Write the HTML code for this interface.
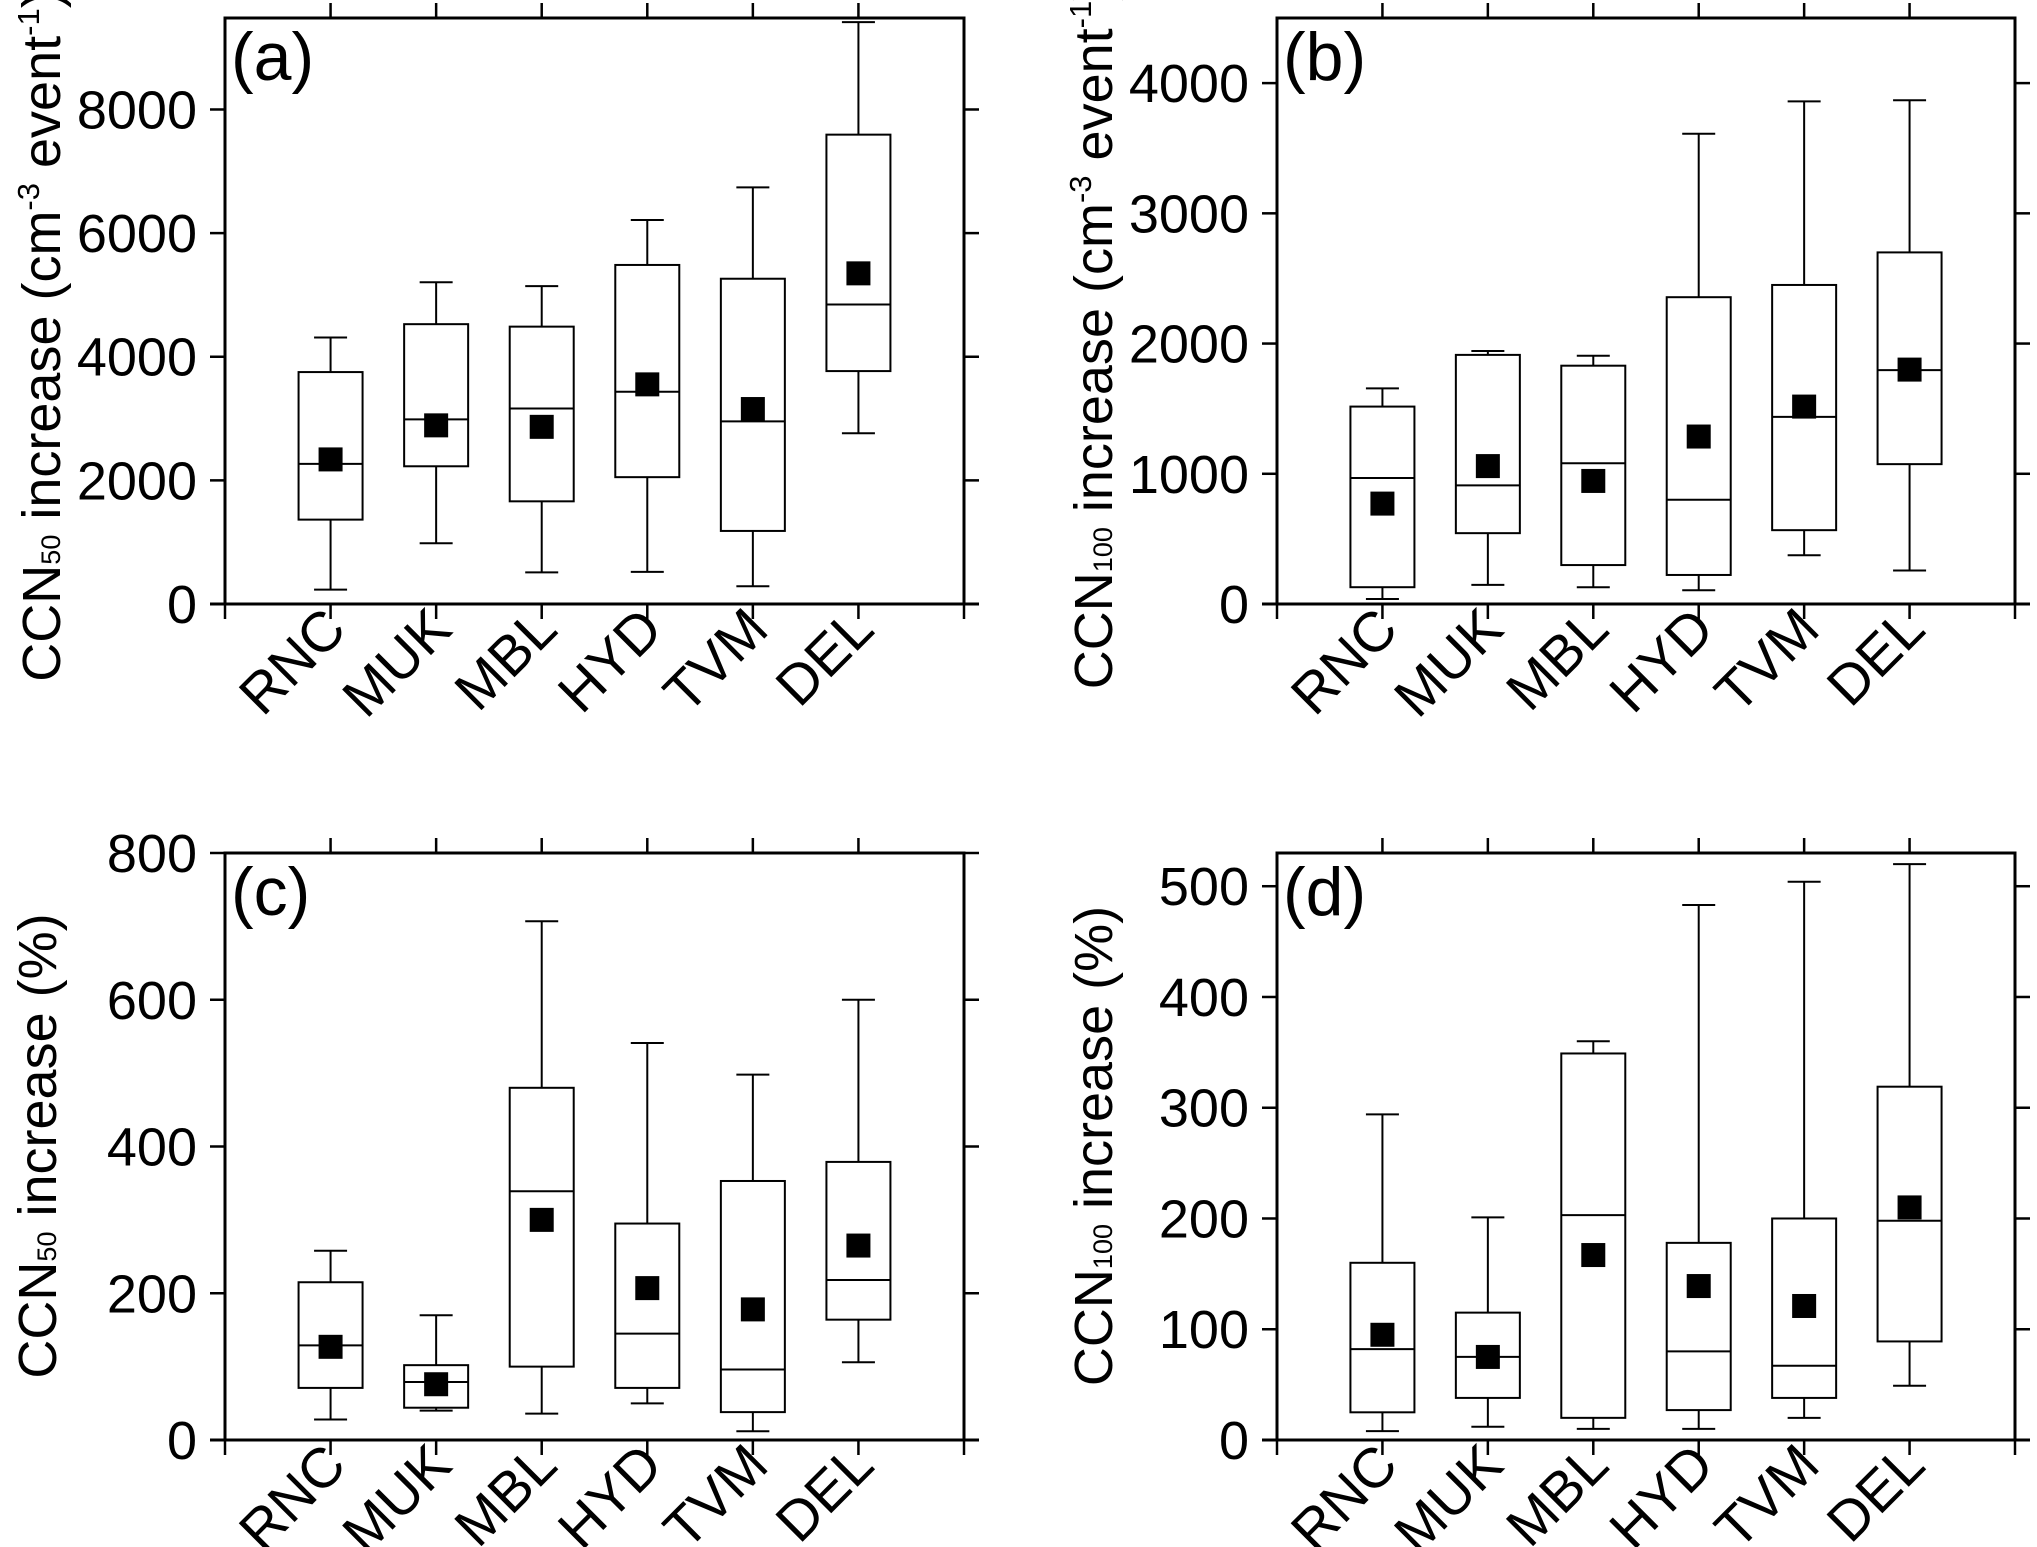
<!DOCTYPE html>
<html><head><meta charset="utf-8">
<style>
html,body{margin:0;padding:0;background:#fff;}
svg{display:block;}
text{font-family:"Liberation Sans",Arial,sans-serif;fill:#000;}
</style></head>
<body>
<svg id="fig" width="2037" height="1547" viewBox="0 0 2037 1547" xmlns="http://www.w3.org/2000/svg"></svg>
<script>
const categories = ["RNC","MUK","MBL","HYD","TVM","DEL"];

// Panel (a) CCN50 increase (cm-3 event-1)
const aWhiskerHigh = [4311,5205,5142,6212,6739,9413];
const aQ3          = [3752,4527,4487,5485,5262,7593];
const aMedian      = [2267,2986,3162,3433,2954,4846];
const aQ1          = [1365,2228,1661,2052,1182,3768];
const aWhiskerLow  = [232,982,511,519,287,2763];
const aMean        = [2339,2890,2866,3553,3154,5349];
const aTicks       = [0,2000,4000,6000,8000];

// Panel (b) CCN100 increase (cm-3 event-1)
const bWhiskerHigh = [1656,1943,1906,3611,3860,3868];
const bQ3          = [1516,1913,1830,2356,2450,2700];
const bMedian      = [968,911,1081,801,1437,1796];
const bQ1          = [129,544,299,223,567,1074];
const bWhiskerLow  = [38,147,129,106,374,257];
const bMean        = [771,1059,945,1286,1516,1800];
const bTicks       = [0,1000,2000,3000,4000];

// Panel (c) CCN50 increase (%)
const cWhiskerHigh = [258,170,707,541,498,600];
const cQ3          = [215,102,480,295,353,379];
const cMedian      = [129,79,339,145,96,218];
const cQ1          = [71,44,100,71,38,164];
const cWhiskerLow  = [28,40,36,50,12,106];
const cMean        = [127,76,300,207,178,265];
const cTicks       = [0,200,400,600,800];

// Panel (d) CCN100 increase (%)
const dWhiskerHigh = [294,201,360,483,504,520];
const dQ3          = [160,115,349,178,200,319];
const dMedian      = [82,75,203,80,67,198];
const dQ1          = [25,38,20,27,38,89];
const dWhiskerLow  = [8,12,10,10,20,49];
const dMean        = [95,75,167,139,121,210];
const dTicks       = [0,100,200,300,400,500];

const NS = "http://www.w3.org/2000/svg";
const svg = document.getElementById('fig');

function mk(tag, attrs, parent){
  const e = document.createElementNS(NS, tag);
  for (const k in attrs) e.setAttribute(k, attrs[k]);
  (parent||svg).appendChild(e);
  return e;
}

function panel(cfg){
  const g = mk('g', {});
  
  
  const L=cfg.left, R=cfg.right, T=cfg.top, B=cfg.bottom;
  const xs = i => L + (R-L)*(i+1)/7;
  const ys = v => B - (B-T)*v/cfg.ymax;
  const tk = 15;

  const fr = mk('path', {d:`M${L},${B} L${L},${T} L${R},${T} L${R},${B}`, fill:'none', stroke:'#000','stroke-width':3}, g);
  
  
  const xa = mk('line', {x1:L-tk, x2:R+tk, y1:B, y2:B, stroke:'#000','stroke-width':3}, g);
  
  
  for (let j=0;j<=7;j++){
    const x = L + (R-L)*j/7;
    const t1 = mk('line', {x1:x,x2:x,y1:B,y2:B+tk,stroke:'#000','stroke-width':2.5}, g);
    
    
    if (j>0 && j<7){
      const t2 = mk('line', {x1:x,x2:x,y1:T,y2:T-tk,stroke:'#000','stroke-width':2.5}, g);
      
      
    }
  }
  cfg.ticks.forEach(v=>{
    const y = ys(v);
    const t1 = mk('line', {x1:L-tk,x2:L,y1:y,y2:y,stroke:'#000','stroke-width':2.5}, g);
    
    
    const t2 = mk('line', {x1:R,x2:R+tk,y1:y,y2:y,stroke:'#000','stroke-width':2.5}, g);
    
    
    const lb = mk('text', {x:L-28, y:y+19, 'text-anchor':'end','font-size':54}, g);
    lb.textContent = String(v);
    
    
  });
  categories.forEach((c,i)=>{
    const x = xs(i)+18, y = B+28;
    const lb = mk('text', {x:x, y:y, 'text-anchor':'end','font-size':56, transform:`rotate(-45 ${x} ${y})`}, g);
    lb.textContent = c;
    
    
  });
  const bw=64, cw=33, ms=24;
  categories.forEach((c,i)=>{
    const x = xs(i);
    const bg = mk('g', {}, g);
    
    
    const st = {stroke:'#000','stroke-width':2,fill:'none'};
    mk('line', Object.assign({x1:x,x2:x,y1:ys(cfg.wh[i]),y2:ys(cfg.q3[i])},st), bg);
    mk('line', Object.assign({x1:x,x2:x,y1:ys(cfg.q1[i]),y2:ys(cfg.wl[i])},st), bg);
    mk('line', Object.assign({x1:x-cw/2,x2:x+cw/2,y1:ys(cfg.wh[i]),y2:ys(cfg.wh[i])},st), bg);
    mk('line', Object.assign({x1:x-cw/2,x2:x+cw/2,y1:ys(cfg.wl[i]),y2:ys(cfg.wl[i])},st), bg);
    mk('rect', Object.assign({x:x-bw/2,y:ys(cfg.q3[i]),width:bw,height:ys(cfg.q1[i])-ys(cfg.q3[i])},st), bg);
    mk('line', Object.assign({x1:x-bw/2,x2:x+bw/2,y1:ys(cfg.med[i]),y2:ys(cfg.med[i])},st), bg);
    const m = mk('rect', {x:x-ms/2,y:ys(cfg.mean[i])-ms/2,width:ms,height:ms,fill:'#000'}, bg);
    
    
  });
  const pl = mk('text', {x:L+6, y:T+62,'font-size':68}, g);
  pl.textContent = '(' + cfg.id + ')';
  
  
  const tx = cfg.titleX, ty = cfg.titleY;
  const tt = mk('text', {x:tx, y:ty, 'text-anchor':'middle','font-size':54, transform:`rotate(-90 ${tx} ${ty})`}, g);
  
  
  cfg.title.forEach(p=>{
    const s = mk('tspan', {}, tt);
    if (p[1]==='sub'){ s.setAttribute('font-size','27'); }
    if (p[1]==='sup'){ s.setAttribute('font-size','31'); s.setAttribute('dy','-21'); }
    if (p[1]==='back'){ s.setAttribute('dy','21'); }
    s.textContent = p[0];
  });
}

panel({id:'a', left:225, right:964, top:18, bottom:604, ymax:9480, ticks:aTicks,
  wh:aWhiskerHigh,q3:aQ3,med:aMedian,q1:aQ1,wl:aWhiskerLow,mean:aMean,
  titleX:60, titleY:336,
  title:[['CCN',''],['50','sub'],[' increase (cm',''],['-3','sup'],[' event','back'],['-1','sup'],[')','back']]});
panel({id:'b', left:1277, right:2015, top:18, bottom:604, ymax:4500, ticks:bTicks,
  wh:bWhiskerHigh,q3:bQ3,med:bMedian,q1:bQ1,wl:bWhiskerLow,mean:bMean,
  titleX:1112, titleY:336,
  title:[['CCN',''],['100','sub'],[' increase (cm',''],['-3','sup'],[' event','back'],['-1','sup'],[')','back']]});
panel({id:'c', left:225, right:964, top:853, bottom:1440, ymax:800, ticks:cTicks,
  wh:cWhiskerHigh,q3:cQ3,med:cMedian,q1:cQ1,wl:cWhiskerLow,mean:cMean,
  titleX:56, titleY:1146,
  title:[['CCN',''],['50','sub'],[' increase (%)','']]});
panel({id:'d', left:1277, right:2015, top:853, bottom:1440, ymax:530, ticks:dTicks,
  wh:dWhiskerHigh,q3:dQ3,med:dMedian,q1:dQ1,wl:dWhiskerLow,mean:dMean,
  titleX:1112, titleY:1146,
  title:[['CCN',''],['100','sub'],[' increase (%)','']]});
</script>
</body></html>
